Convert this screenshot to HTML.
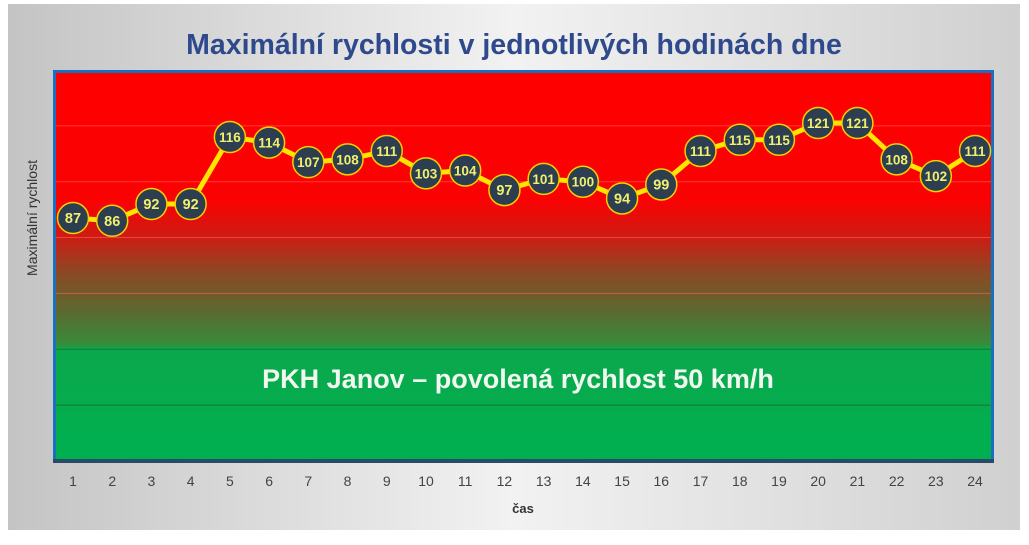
<!DOCTYPE html>
<html><head><meta charset="utf-8"><style>
body{margin:0;width:1029px;height:540px;background:#fff;overflow:hidden}
</style></head><body>
<svg id="s" width="1029" height="540" xmlns="http://www.w3.org/2000/svg" font-family="Liberation Sans, sans-serif">
<defs>
<linearGradient id="bg" x1="0" y1="0" x2="1" y2="0">
<stop offset="0" stop-color="#c4c4c4"/><stop offset="0.5" stop-color="#f2f2f2"/><stop offset="1" stop-color="#d0d0d0"/>
</linearGradient>
<linearGradient id="pl" x1="0" y1="0" x2="0" y2="1">
<stop offset="0" stop-color="#ff0000"/>
<stop offset="0.33" stop-color="#fa0202"/>
<stop offset="0.42" stop-color="#d01a12"/>
<stop offset="0.52" stop-color="#8a4a25"/>
<stop offset="0.62" stop-color="#5a6a30"/>
<stop offset="0.70" stop-color="#3a8a3a"/>
<stop offset="0.715" stop-color="#0aa84c"/>
<stop offset="1" stop-color="#00b050"/>
</linearGradient>
</defs>
<rect x="8" y="4" width="1012" height="526" fill="url(#bg)"/>
<text x="514" y="54" text-anchor="middle" font-size="28.5" font-weight="bold" fill="#2e4a8c">Maximální rychlosti v jednotlivých hodinách dne</text>
<rect x="53" y="70" width="941" height="392" fill="#1a6fc0"/>
<rect x="56" y="73" width="935" height="386" fill="url(#pl)"/>
<rect x="53" y="459" width="941" height="4" fill="#2a4a6a"/>
<g id="grid"></g>
<text x="518" y="388" text-anchor="middle" font-size="27" font-weight="bold" fill="#f0f8f0">PKH Janov – povolená rychlost 50 km/h</text>
<text transform="translate(37,218) rotate(-90)" text-anchor="middle" font-size="14" fill="#333">Maximální rychlost</text>
<text x="523" y="513" text-anchor="middle" font-size="13" font-weight="bold" fill="#333">čas</text>
<g id="ticks"></g>
<g id="series"></g>
</svg>
<script>
var v=[87,86,92,92,116,114,107,108,111,103,104,97,101,100,94,99,111,115,115,121,121,108,102,111];
var ns="http://www.w3.org/2000/svg";
function el(t,a,p,txt){var e=document.createElementNS(ns,t);for(var k in a)e.setAttribute(k,a[k]);if(txt!=null)e.textContent=txt;p.appendChild(e);return e;}
function X(i){return 73+i*39.22;}
function Y(val){return 461-val*2.793;}
var g=document.getElementById('grid');
for(var k=1;k<=6;k++){var y=Y(k*20);el('line',{x1:56,x2:991,y1:y,y2:y,stroke:k<=2?'#1d6e32':'#ff6060','stroke-width':1,opacity:k<=2?0.9:0.6},g);}
var t=document.getElementById('ticks');
for(var i=0;i<24;i++)el('text',{x:X(i),y:486,'text-anchor':'middle','font-size':14,fill:'#444'},t,String(i+1));
var s=document.getElementById('series');
var pts=v.map(function(a,i){return X(i)+','+Y(a)}).join(' ');
el('polyline',{points:pts,fill:'none',stroke:'#ffe600','stroke-width':5,'stroke-linejoin':'round'},s);
v.forEach(function(a,i){
el('circle',{cx:X(i),cy:Y(a),r:15.5,fill:'#2c3e50',stroke:'#f5d000','stroke-width':1.5},s);
el('text',{x:X(i),y:Y(a)+5,'text-anchor':'middle','font-size':a>=100?13.5:14.5,'font-weight':'bold',fill:'#f0f070'},s,String(a));
});
</script>
</body></html>
